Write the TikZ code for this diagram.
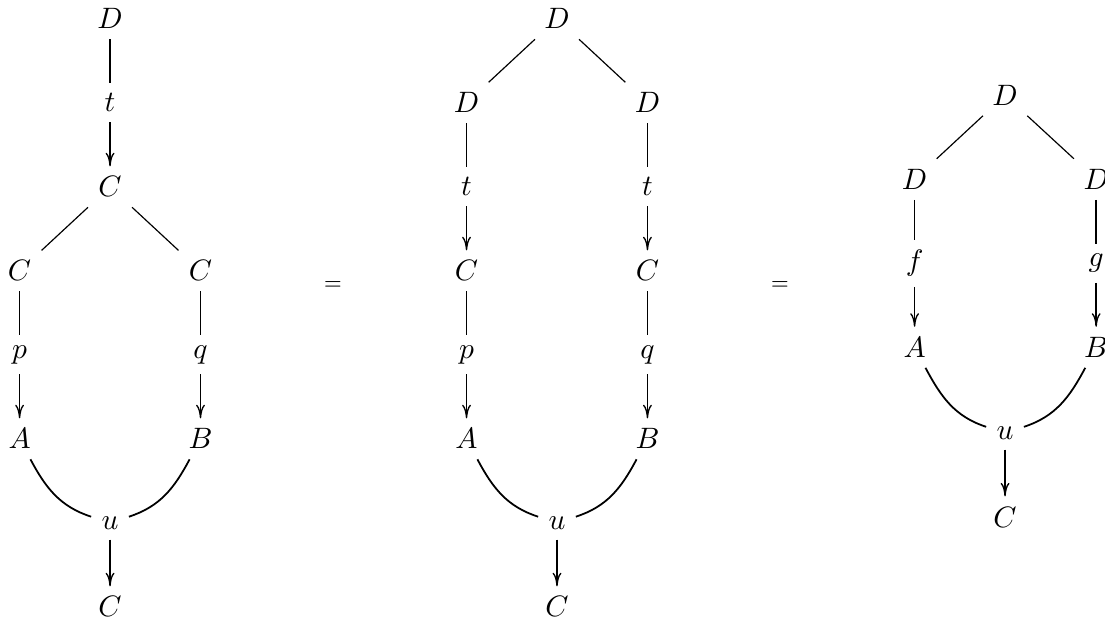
\documentclass[tikz,border=0pt]{standalone}
\usetikzlibrary{arrows.meta}
\begin{document}
\begin{tikzpicture}[
			>={To[length=4.6pt,width=3pt,line width=0.45pt]},
			wire/.style={semithick},
			split/.style={thin},
			merge/.style={semithick},
			eqsign/.style={font=\fontsize{7pt}{8pt}\selectfont}
		]
			\useasboundingbox (-1.31,0.224) rectangle (11.845,-7.157);

			% left side
			\node (lD) at (0,0) {$D$};
			\node (lt) at (0,-1) {$t$};
			\node (lC) at (0,-2) {$C$};
			\node (lCa) at (-1.077,-3) {$C$};
			\node (lCb) at (1.077,-3) {$C$};
			\node (lp) at (-1.077,-4) {$p$};
			\node (lq) at (1.077,-4) {$q$};
			\node (lA) at (-1.077,-5) {$A$};
			\node (lB) at (1.077,-5) {$B$};
			\node (lu) at (0,-6) {$u$};
			\node (lout) at (0,-7) {$C$};

			\draw[wire] (lD) -- (lt);
			\draw[wire, ->] (lt) -- (lC);
			\draw[split] (lC) -- (lCa);
			\draw[split] (lC) -- (lCb);
			\draw[wire] (lCa) -- (lp);
			\draw[wire] (lCb) -- (lq);
			\draw[wire, ->] (lp) -- (lA);
			\draw[wire, ->] (lq) -- (lB);
			\draw[merge] (lA) to[out=-62, in=162] (lu);
			\draw[merge] (lB) to[out=-118, in=18] (lu);
			\draw[wire, ->] (lu) -- (lout);

			\node[eqsign] (eq1) at (2.655,-3.17) {$=$};

			% middle
			\node (mD) at (5.321,0) {$D$};
			\node (mDa) at (4.244,-1) {$D$};
			\node (mDb) at (6.398,-1) {$D$};
			\node (mta) at (4.244,-2) {$t$};
			\node (mtb) at (6.398,-2) {$t$};
			\node (mCa) at (4.244,-3) {$C$};
			\node (mCb) at (6.398,-3) {$C$};
			\node (mp) at (4.244,-4) {$p$};
			\node (mq) at (6.398,-4) {$q$};
			\node (mA) at (4.244,-5) {$A$};
			\node (mB) at (6.398,-5) {$B$};
			\node (mu) at (5.321,-6) {$u$};
			\node (mout) at (5.321,-7) {$C$};

			\draw[split] (mD) -- (mDa);
			\draw[split] (mD) -- (mDb);
			\draw[wire] (mDa) -- (mta);
			\draw[wire] (mDb) -- (mtb);
			\draw[wire, ->] (mta) -- (mCa);
			\draw[wire, ->] (mtb) -- (mCb);
			\draw[wire] (mCa) -- (mp);
			\draw[wire] (mCb) -- (mq);
			\draw[wire, ->] (mp) -- (mA);
			\draw[wire, ->] (mq) -- (mB);
			\draw[merge] (mA) to[out=-62, in=162] (mu);
			\draw[merge] (mB) to[out=-118, in=18] (mu);
			\draw[wire, ->] (mu) -- (mout);

			\node[eqsign] (eq2) at (7.976,-3.17) {$=$};

			% right side
			\node (rD) at (10.655,-0.91) {$D$};
			\node (rDa) at (9.578,-1.91) {$D$};
			\node (rDb) at (11.74,-1.91) {$D$};
			\node (rf) at (9.578,-2.91) {$f$};
			\node (rg) at (11.74,-2.91) {$g$};
			\node (rA) at (9.578,-3.91) {$A$};
			\node (rB) at (11.74,-3.91) {$B$};
			\node (ru) at (10.655,-4.93) {$u$};
			\node (rout) at (10.655,-5.93) {$C$};

			\draw[split] (rD) -- (rDa);
			\draw[split] (rD) -- (rDb);
			\draw[wire] (rDa) -- (rf);
			\draw[wire] (rDb) -- (rg);
			\draw[wire, ->] (rf) -- (rA);
			\draw[wire, ->] (rg) -- (rB);
			\draw[merge] (rA) to[out=-62, in=162] (ru);
			\draw[merge] (rB) to[out=-118, in=18] (ru);
			\draw[wire, ->] (ru) -- (rout);
		\end{tikzpicture}
\end{document}
